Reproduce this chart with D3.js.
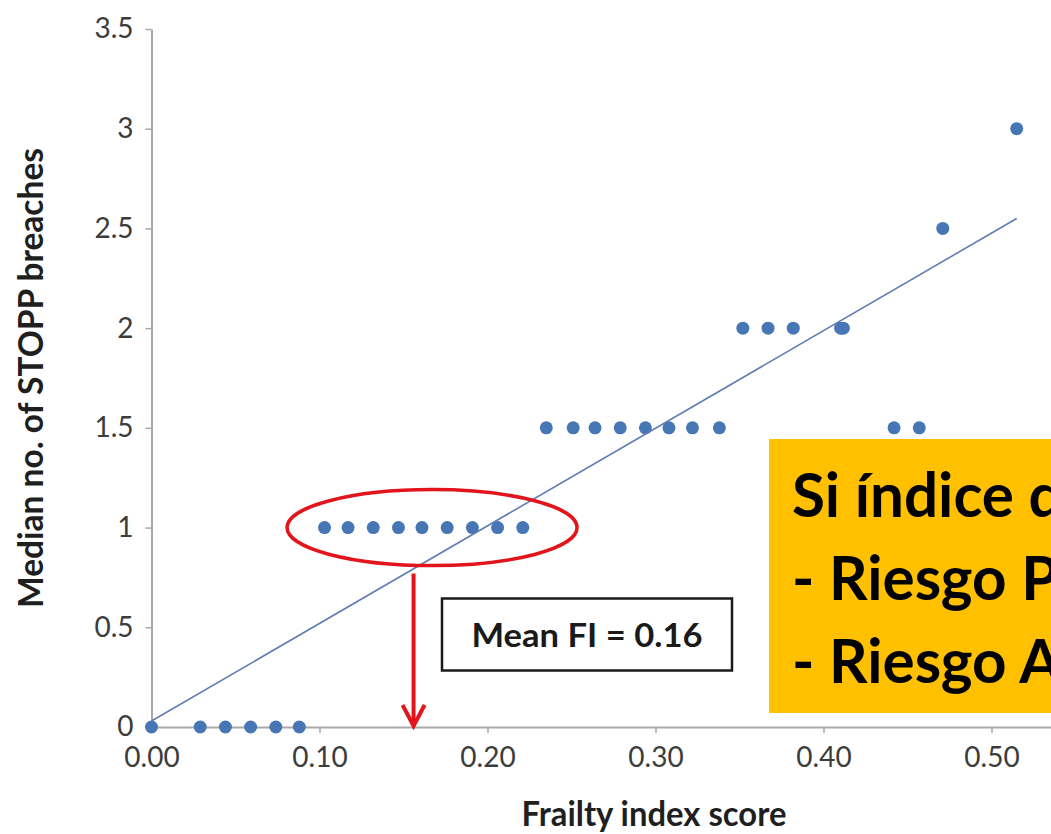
<!DOCTYPE html>
<html>
<head>
<meta charset="utf-8">
<script src="https://cdn.jsdelivr.net/npm/d3@7"></script>
<style>
  html, body { margin: 0; padding: 0; background: #fff; overflow: hidden; }
  svg { display: block; }
</style>
</head>
<body>
<svg id="chart" width="1051" height="834"></svg>
<script>
// Frailty index scores, grouped by the median number of STOPP breaches
const fiAt0   = [0.000, 0.029, 0.044, 0.059, 0.074, 0.088];
const fiAt1   = [0.103, 0.117, 0.132, 0.147, 0.161, 0.176, 0.191, 0.206, 0.221];
const fiAt1_5 = [0.235, 0.251, 0.264, 0.279, 0.294, 0.308, 0.322, 0.338, 0.442, 0.457];
const fiAt2   = [0.352, 0.367, 0.382, 0.4102, 0.4118];
const fiAt2_5 = [0.471];
const fiAt3   = [0.515];
const medianBreaches = [0, 1, 1.5, 2, 2.5, 3];

// Linear trend line (start and end)
const trendFI = [0, 0.515];
const trendBreaches = [0.03, 2.55];

// Axis ticks
const xTicks = [0, 0.1, 0.2, 0.3, 0.4, 0.5, 0.6];
const yTicks = [0, 0.5, 1, 1.5, 2, 2.5, 3, 3.5];

// Annotations
const meanFI = 0.156;
const highlightLevel = 1;
const highlightCentreFI = 0.167;
const noteLines = ["Si índice de fragilidad ≥ 0,16:", "- Riesgo PIM", "- Riesgo ADE"];

const xLabel = "Frailty index score";
const yLabel = "Median no. of STOPP breaches";

const groups = [fiAt0, fiAt1, fiAt1_5, fiAt2, fiAt2_5, fiAt3];
const points = groups.flatMap((g, i) => g.map(fi => ({ fi, med: medianBreaches[i] })));

const svg = d3.select("#chart");
const FONT = "Lato, 'Open Sans', sans-serif";

const x = d3.scaleLinear().domain([0, 0.6]).range([151.5, 1159.5]);
const y = d3.scaleLinear().domain([0, 3.5]).range([727, 29]);

svg.append("rect").attr("width", 1051).attr("height", 834).attr("fill", "#fff");

// Axes
const gx = svg.append("g")
  .attr("transform", `translate(0,${y(0)})`)
  .call(d3.axisBottom(x).tickValues(xTicks).tickFormat(d3.format(".2f"))
    .tickSize(6).tickSizeOuter(0).tickPadding(14));
const gy = svg.append("g")
  .attr("transform", `translate(${x(0)},0)`)
  .call(d3.axisLeft(y).tickValues(yTicks).tickFormat(d => String(d))
    .tickSize(6).tickSizeOuter(0).tickPadding(12));

[gx, gy].forEach(g => {
  g.select(".domain").attr("stroke", "#a8a8a8").attr("stroke-width", 2);
  g.selectAll(".tick line").attr("stroke", "#a8a8a8").attr("stroke-width", 1.5);
  g.selectAll(".tick text")
    .attr("fill", "#3c3c3c")
    .style("font-family", FONT)
    .style("font-size", "28px");
});

// Data points
svg.append("g").selectAll("circle")
  .data(points)
  .join("circle")
  .attr("cx", d => x(d.fi))
  .attr("cy", d => y(d.med))
  .attr("r", 6.5)
  .attr("fill", "#4776b4");

// Trend line
svg.append("path")
  .datum(trendFI.map((fi, i) => [fi, trendBreaches[i]]))
  .attr("d", d3.line().x(d => x(d[0])).y(d => y(d[1])))
  .attr("fill", "none")
  .attr("stroke", "#5f7db3")
  .attr("stroke-width", 1.6);

// Highlight ellipse around the FI cluster at one breach
const red = "#e2141c";
svg.append("ellipse")
  .attr("cx", x(highlightCentreFI))
  .attr("cy", y(highlightLevel))
  .attr("rx", 145)
  .attr("ry", 38)
  .attr("fill", "none")
  .attr("stroke", red)
  .attr("stroke-width", 3.5);

// Arrow down to the mean FI on the x axis
const ax = x(meanFI);
svg.append("line")
  .attr("x1", ax).attr("x2", ax)
  .attr("y1", y(highlightLevel) + 46).attr("y2", y(0) - 2)
  .attr("stroke", red).attr("stroke-width", 4);
svg.append("path")
  .attr("d", `M${ax - 11},${y(0) - 22}L${ax},${y(0) - 1}L${ax + 11},${y(0) - 22}`)
  .attr("fill", "none").attr("stroke", red).attr("stroke-width", 4)
  .attr("stroke-linejoin", "miter");

// Mean FI label box
svg.append("rect")
  .attr("x", 442).attr("y", 598.5).attr("width", 290).attr("height", 72)
  .attr("fill", "#fff").attr("stroke", "#1a1a1a").attr("stroke-width", 2.5);
svg.append("text")
  .attr("x", 587).attr("y", 647)
  .attr("text-anchor", "middle")
  .attr("textLength", 231).attr("lengthAdjust", "spacingAndGlyphs")
  .style("font-family", FONT).style("font-weight", 700).style("font-size", "32px")
  .attr("fill", "#1a1a1a")
  .text("Mean FI = " + d3.format(".2f")(meanFI));

// Axis titles
svg.append("text")
  .attr("x", 654).attr("y", 826)
  .attr("text-anchor", "middle")
  .attr("textLength", 265).attr("lengthAdjust", "spacingAndGlyphs")
  .style("font-family", FONT).style("font-weight", 700).style("font-size", "34px")
  .attr("fill", "#1f1f1f")
  .text(xLabel);
svg.append("text")
  .attr("transform", "translate(43,378) rotate(-90)")
  .attr("text-anchor", "middle")
  .attr("textLength", 460).attr("lengthAdjust", "spacingAndGlyphs")
  .style("font-family", FONT).style("font-weight", 700).style("font-size", "35px")
  .attr("fill", "#1f1f1f")
  .text(yLabel);

// Orange note box
svg.append("rect")
  .attr("x", 769).attr("y", 439).attr("width", 320).attr("height", 274)
  .attr("fill", "#ffc000");
const note = svg.append("g");
note.selectAll("text")
  .data(noteLines)
  .join("text")
  .attr("x", 0)
  .attr("y", (d, i) => 517 + i * 83)
  .style("font-family", FONT).style("font-weight", 700).style("font-size", "61px")
  .attr("fill", "#000")
  .attr("xml:space", "preserve")
  .text(d => d);
// squeeze the note text horizontally to a condensed width
const probe = note.append("text")
  .style("font-family", FONT).style("font-weight", 700).style("font-size", "61px")
  .text("Si índice");
const k = 222 / probe.node().getComputedTextLength();
probe.remove();
note.attr("transform", `translate(792,0) scale(${k},1)`);
</script>
</body>
</html>
